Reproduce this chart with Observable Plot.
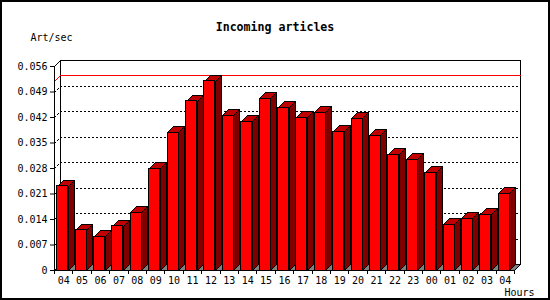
<!DOCTYPE html>
<html>
<head>
<meta charset="utf-8">
<script src="https://cdn.jsdelivr.net/npm/d3@7"></script>
<script src="https://cdn.jsdelivr.net/npm/@observablehq/plot@0.6"></script>
<style>
  html, body { margin: 0; padding: 0; background: #fff; }
  #chart svg { display: block; }
</style>
</head>
<body>
<div id="chart"></div>
<script>
// ---- data ----
const hours = ["04","05","06","07","08","09","10","11","12","13","14","15","16",
               "17","18","19","20","21","22","23","00","01","02","03","04"];
const rates = [0.0231, 0.0110, 0.0093, 0.0121, 0.0159, 0.0279, 0.0378, 0.0464, 0.0519,
               0.0425, 0.0408, 0.0472, 0.0447, 0.0419, 0.0433, 0.0381, 0.0417, 0.0370,
               0.0318, 0.0304, 0.0268, 0.0125, 0.0142, 0.0153, 0.0211];
const yTicks = [0, 0.007, 0.014, 0.021, 0.028, 0.035, 0.042, 0.049, 0.056];
const title = "Incoming articles";
const yUnit = "Art/sec";
const xUnit = "Hours";

const data = hours.map((h, i) => ({i, hour: h, rate: rates[i]}));
const maxRate = d3.max(rates);

// 3D depth (pixels)
const DX = 6, DY = 6;
const FONT = "DejaVu Sans Mono";
const R = v => Math.round(v);

function pts(list) { return list.map(d => R(d[0]) + "," + R(d[1])).join(" "); }
function poly(g, list, fill, stroke) {
  return g.append("polygon").attr("points", pts(list)).attr("fill", fill).attr("stroke", stroke);
}
function pline(g, list, stroke, dash) {
  const p = g.append("polyline").attr("points", pts(list)).attr("fill", "none").attr("stroke", stroke);
  if (dash) p.attr("stroke-dasharray", dash);
  return p;
}
function bandInfo(x) {
  return x.bandwidth ? x.bandwidth() : (x(1) - x(0));
}
function layer() {
  return d3.create("svg:g")
    .attr("transform", "translate(0.5,0.5)")
    .attr("shape-rendering", "crispEdges");
}

// back plane, floor, grid, max line
function backdrop(index, scales) {
  const {x, y} = scales;
  const bw = bandInfo(x);
  const xl = x(0), xr = x(hours.length - 1) + bw;
  const y0 = y(0), yt = y(yTicks[yTicks.length - 1]);
  const g = layer();
  poly(g, [[xl + DX, yt - DY], [xr + DX, yt - DY], [xr + DX, y0 - DY], [xl + DX, y0 - DY]], "white", "black");
  poly(g, [[xl, y0], [xr, y0], [xr + DX, y0 - DY], [xl + DX, y0 - DY]], "#808080", "black");
  pline(g, [[xl, yt], [xl + DX, yt - DY]], "black");
  for (const t of yTicks.slice(1, -1)) {
    pline(g, [[xl, y(t)], [xl + DX, y(t) - DY], [xr + DX, y(t) - DY]], "black", "2,2");
  }
  pline(g, [[xl, y(maxRate)], [xl + DX, y(maxRate) - DY], [xr + DX, y(maxRate) - DY]], "#ff0000");
  return g.node();
}

// top and side faces of the bars
function barFaces(index, scales) {
  const {x, y} = scales;
  const bw = bandInfo(x);
  const g = layer();
  const y0 = y(0);
  for (const d of data) {
    const x0 = x(d.i) + 2.7, x1 = x(d.i) + bw - 4.7;
    const yv = y(d.rate);
    poly(g, [[x0, yv], [x1, yv], [x1 + DX, yv - DY], [x0 + DX, yv - DY]], "#c00000", "black");
    poly(g, [[x1, yv], [x1 + DX, yv - DY], [x1 + DX, y0 - DY], [x1, y0]], "#800000", "black");
  }
  return g.node();
}

// x axis line with ticks at band boundaries, right diagonal, outer frame
function foreground(index, scales, values, dims) {
  const {x, y} = scales;
  const bw = bandInfo(x);
  const xl = x(0), xr = x(hours.length - 1) + bw;
  const y0 = y(0);
  const g = layer();
  pline(g, [[xl, y0], [xr, y0], [xr + DX, y0 - DY]], "black");
  for (let i = 0; i <= hours.length; i++) {
    const xx = xl + i * bw;
    pline(g, [[xx, y0], [xx, y0 + 3]], "black");
  }
  g.append("rect")
    .attr("x", 0.5).attr("y", 0.5)
    .attr("width", dims.width - 2).attr("height", dims.height - 2)
    .attr("fill", "none").attr("stroke", "black").attr("stroke-width", 2);
  return g.node();
}

const chart = Plot.plot({
  width: 550,
  height: 300,
  marginLeft: 54,
  marginRight: 36,
  marginTop: 66,
  marginBottom: 30,
  style: {fontFamily: FONT, fontSize: "10px", background: "white", color: "black"},
  x: {
    type: "band",
    domain: d3.range(hours.length),
    padding: 0,
    round: false,
    tickSize: 0,
    tickPadding: 6,
    tickFormat: i => hours[i],
    label: null
  },
  y: {
    domain: [0, yTicks[yTicks.length - 1]],
    ticks: yTicks,
    tickFormat: d => d === 0 ? "0" : d.toFixed(3),
    tickSize: 4,
    tickPadding: 3,
    line: true,
    label: null
  },
  marks: [
    backdrop,
    barFaces,
    Plot.barY(data, {x: "i", y: "rate", fill: "#ff0000", stroke: "black",
                     insetLeft: 2.7, insetRight: 4.7, shapeRendering: "crispEdges"}),
    foreground,
    Plot.text([title], {text: d => d, frameAnchor: "top", lineAnchor: "middle", dx: -9.5, dy: -39.5,
                        fontWeight: "bold", fontSize: 11.6, fontFamily: FONT}),
    Plot.text([yUnit], {text: d => d, frameAnchor: "top-left", textAnchor: "start", lineAnchor: "middle",
                        dx: -24, dy: -29, fontSize: 10, fontFamily: FONT}),
    Plot.text([xUnit], {text: d => d, frameAnchor: "bottom-right", textAnchor: "start", lineAnchor: "middle",
                        dx: -10, dy: 22, fontSize: 10, fontFamily: FONT})
  ]
});
document.getElementById("chart").append(chart);
</script>
</body>
</html>
